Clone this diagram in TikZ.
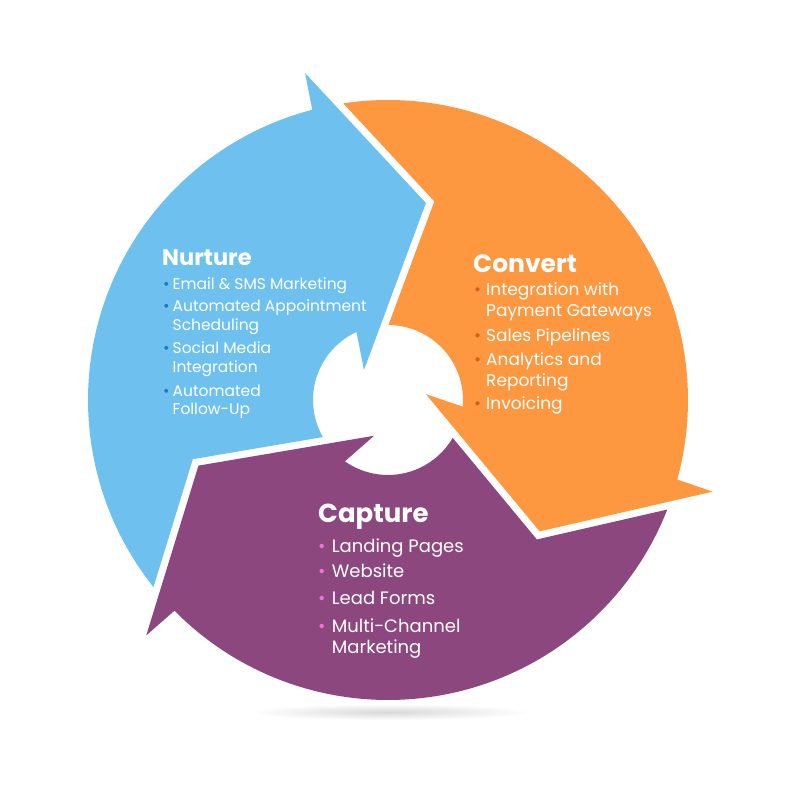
\documentclass[tikz,border=0pt]{standalone}
\usepackage{fontspec}
\setmainfont{Poppins}
\definecolor{cblue}{HTML}{6EC1EE}
\definecolor{corange}{HTML}{FD9840}
\definecolor{cpurple}{HTML}{8C487E}
\definecolor{bblue}{HTML}{1C78BA}
\definecolor{borange}{HTML}{D4601C}
\definecolor{bpink}{HTML}{F070DA}
\definecolor{shadowgray}{HTML}{D8D8D8}
\begin{document}
\begin{tikzpicture}[x=1pt,y=1pt,
  headtxt/.style={anchor=base west, inner sep=0pt, text=white, font=\bfseries\fontsize{#1}{#1}\selectfont},
  itemtxt/.style={anchor=base west, inner sep=0pt, text=white, font=\fontsize{#1}{#1}\selectfont},
  bul/.style 2 args={anchor=base west, inner sep=0pt, text=#1, font=\fontsize{#2}{#2}\selectfont}]
\useasboundingbox (0,0) rectangle (800,800);
\fill[white] (0,0) rectangle (800,800);
% shadow
\shade[inner color=shadowgray, outer color=white] (390,88) ellipse [x radius=140, y radius=8];
\begin{scope}[shift={(388,400)}]
  % each arrow as one closed outline: head, inner arc, notched tail, outer arc
  \foreach \t/\c in {0/cblue, -120/corange, 120/cpurple} {
    \fill[\c] ({\t+104.24}:337.4) -- ({\t+79.1}:200.6) -- ({\t+128.7}:38.4)
      -- ({\t+114.89}:75) arc[start angle=\t+114.89, end angle=\t+209.64, radius=75]
      -- ({\t+196.87}:203.99)
      -- ({\t+218.58}:300) arc[start angle=\t+218.58, end angle=\t+104.62, radius=300]
      -- cycle;
  }
\end{scope}
% Nurture
\node[headtxt=22.5] (nh) at (162,534) {Nurture};
\node[bul={bblue}{15.5}] (nb1) at (163,510) {•};
\node[itemtxt=15.5] (n1) at (172.5,510) {Email \& SMS Marketing};
\node[bul={bblue}{15.5}] (nb2) at (163,488.3) {•};
\node[itemtxt=15.5] (n2a) at (172.5,488.3) {Automated Appointment};
\node[itemtxt=15.5] (n2b) at (172.5,469.3) {Scheduling};
\node[bul={bblue}{15.5}] (nb3) at (163,446) {•};
\node[itemtxt=15.5] (n3a) at (172.5,446) {Social Media};
\node[itemtxt=15.5] (n3b) at (172.5,427) {Integration};
\node[bul={bblue}{15.5}] (nb4) at (163,403) {•};
\node[itemtxt=15.5] (n4a) at (172.5,403) {Automated};
\node[itemtxt=15.5] (n4b) at (172.5,385) {Follow-Up};
% Convert
\node[headtxt=25] (ch) at (473,527) {Convert};
\node[bul={borange}{17}] (cb1) at (474,504.3) {•};
\node[itemtxt=17] (c1a) at (486,504.3) {Integration with};
\node[itemtxt=17] (c1b) at (486,483.3) {Payment Gateways};
\node[bul={borange}{17}] (cb2) at (474,458.3) {•};
\node[itemtxt=17] (c2) at (486,458.3) {Sales Pipelines};
\node[bul={borange}{17}] (cb3) at (474,434.3) {•};
\node[itemtxt=17] (c3a) at (486,434.3) {Analytics and};
\node[itemtxt=17] (c3b) at (486,413.3) {Reporting};
\node[bul={borange}{17}] (cb4) at (474,390) {•};
\node[itemtxt=17] (c4) at (486,390) {Invoicing};
% Capture
\node[headtxt=26] (ph) at (318,277) {Capture};
\node[bul={bpink}{18}] (pb1) at (318,247) {•};
\node[itemtxt=18] (p1) at (331.7,247) {Landing Pages};
\node[bul={bpink}{18}] (pb2) at (318,222) {•};
\node[itemtxt=18] (p2) at (331.7,222) {Website};
\node[bul={bpink}{18}] (pb3) at (318,195) {•};
\node[itemtxt=18] (p3) at (331.7,195) {Lead Forms};
\node[bul={bpink}{18}] (pb4) at (318,167) {•};
\node[itemtxt=18] (p4a) at (331.7,167) {Multi-Channel};
\node[itemtxt=18] (p4b) at (331.7,146) {Marketing};
\end{tikzpicture}
\end{document}
